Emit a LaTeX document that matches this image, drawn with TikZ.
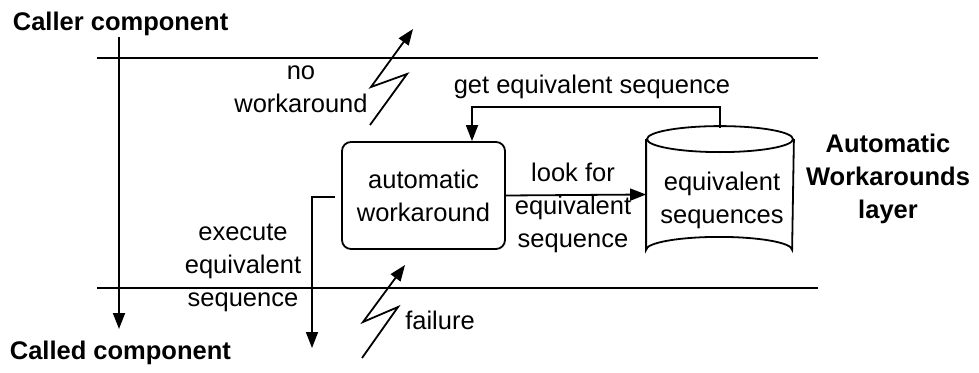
\documentclass[tikz,border=0pt]{standalone}
\usepackage{fontspec}
\setmainfont{Liberation Sans}
\usetikzlibrary{arrows.meta}
\begin{document}
\begin{tikzpicture}[x=1pt,y=-1pt,
  line width=1.8pt,
  arr/.style={-{Triangle[length=16pt,width=12pt]}},
  lbl/.style={font=\fontsize{25.5}{33}\selectfont, align=center, inner sep=0pt},
  blbl/.style={font=\fontsize{25.5}{33}\selectfont\bfseries, align=center, inner sep=0pt},
]
\useasboundingbox (0,0) rectangle (979,372);
\fill[white] (0,0) rectangle (979,372);
% layer boundaries
\coordinate (topL) at (97,58); \coordinate (topR) at (818,58);
\coordinate (botL) at (97,288); \coordinate (botR) at (818,288);
\draw (topL) -- (topR);
\draw (botL) -- (botR);
% components
\node[blbl, anchor=west] (caller) at (12,24) {Caller component};
\node[blbl, anchor=west] (called) at (9,353) {Called component};
\node[blbl] (layer) at (888,179) {Automatic\\Workarounds\\layer};
% caller -> called
\coordinate (callTop) at (119,37); \coordinate (callBot) at (119,329);
\draw[arr] (callTop) -- (callBot);
% automatic workaround box
\node[draw, rounded corners=9pt, minimum width=163pt, minimum height=107pt, lbl] (aw) at (423.5,195.5) {automatic\\workaround};
% cylinder
\node[minimum width=146pt, minimum height=109pt, inner sep=0pt] (cyl) at (720,194.5) {};
\draw (cyl.north west) -- (cyl.south west) arc[start angle=180, end angle=360, x radius=73, y radius=13] -- (cyl.north east);
\draw (cyl.north) ellipse [x radius=73, y radius=13];
\node[lbl] (cyltext) at (722,200) {equivalent\\sequences};
% look for
\draw[arr] (aw.east) -- (cyl.west);
\node[lbl] (look) at (573,208) {look for\\equivalent\\sequence};
% get equivalent sequence
\coordinate (cyltop) at (720,127.5);
\coordinate (g1) at (472,107);
\draw[arr] (cyltop) |- (g1) -- (g1 |- aw.north);
\node[lbl] (get) at (592,87) {get equivalent sequence};
% execute equivalent sequence
\coordinate (exStart) at (335,197);
\coordinate (exTurn) at (312,197);
\coordinate (exEnd) at (312,348);
\draw[arr] (exStart) -- (exTurn) -- (exEnd);
\node[lbl] (exec) at (243,268) {execute\\equivalent\\sequence};
% no workaround lightning
\coordinate (n1) at (370,125); \coordinate (n2) at (407,74);
\coordinate (n3) at (371,87); \coordinate (n4) at (413,29);
\draw[arr] (n1) -- (n2) -- (n3) -- (n4);
\node[lbl] (nowa) at (301,89) {no\\workaround};
% failure lightning
\coordinate (f1) at (362,358); \coordinate (f2) at (398,307);
\coordinate (f3) at (363,322); \coordinate (f4) at (405,265);
\draw[arr] (f1) -- (f2) -- (f3) -- (f4);
\node[lbl] (fail) at (440,320) {failure};
\end{tikzpicture}
\end{document}
